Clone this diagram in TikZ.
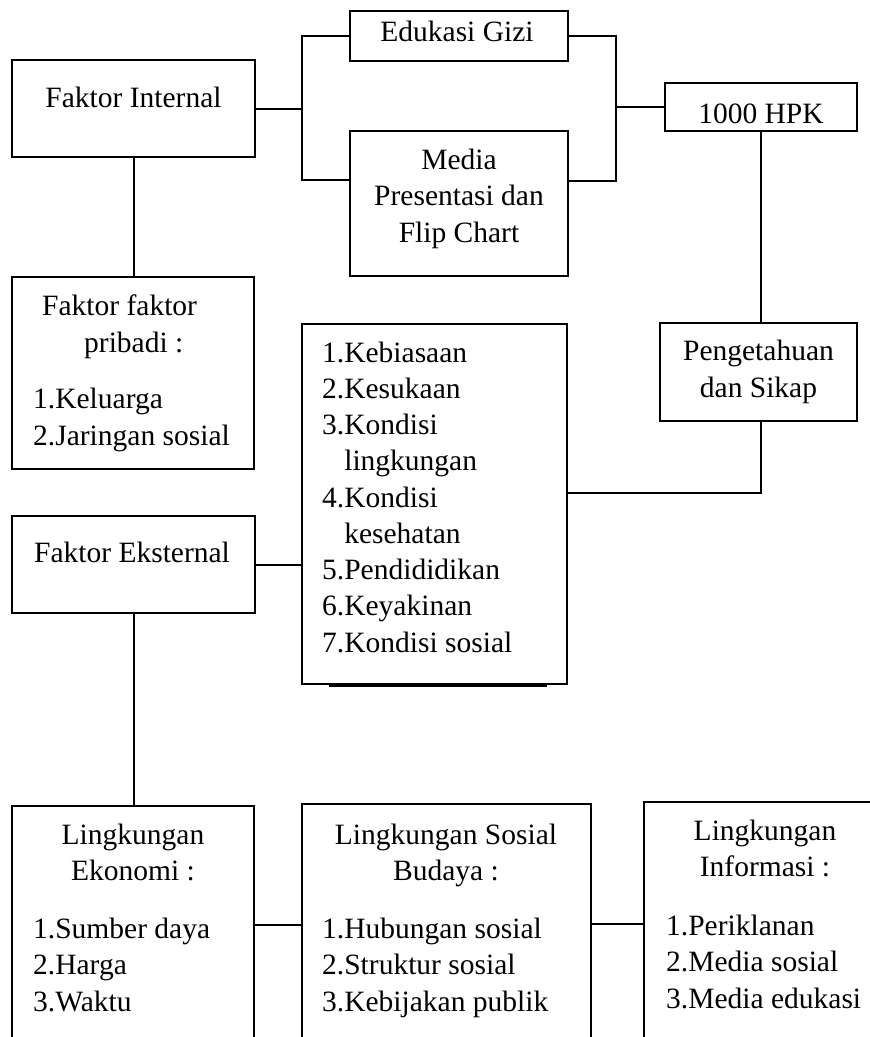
\documentclass[tikz,border=0pt]{standalone}
\usepackage{fontspec}
\setmainfont{Liberation Serif}
\usetikzlibrary{positioning}

\begin{document}
\begin{tikzpicture}[
    x=1pt, y=-1pt,
    box/.style={draw, line width=2pt, inner sep=0pt, outer sep=0pt},
    thinbox/.style={draw, line width=1.2pt, inner sep=0pt, outer sep=0pt},
    teks/.style={inner sep=0pt, font=\fontsize{29.5}{36.5}\selectfont},
    line/.style={line width=2pt},
]
    \useasboundingbox (0,0) rectangle (870,1037);
    \clip (0,0) rectangle (870,1037);

    % Boxes
    \node[box, minimum width=243, minimum height=97] (intern) at (133.5, 108.5) {};
    \node[box, minimum width=218, minimum height=50] (edukasi) at (459, 36) {};
    \node[box, minimum width=218, minimum height=145] (media) at (459, 203.5) {};
    \node[box, minimum width=192, minimum height=48] (hpk) at (761, 107) {};
    \node[box, minimum width=242, minimum height=192] (pribadi) at (133, 373) {};
    \node[thinbox, minimum width=265, minimum height=360] (daftar) at (434.5, 504) {};
    \node[box, minimum width=197, minimum height=98] (sikap) at (758.5, 372) {};
    \node[box, minimum width=243, minimum height=97] (ekstern) at (133.5, 564.5) {};
    \node[box, minimum width=242, minimum height=254] (ekonomi) at (133, 933) {};
    \node[box, minimum width=289, minimum height=256] (sosbud) at (446.5, 932) {};
    \node[box, minimum width=246, minimum height=258] (informasi) at (767, 931) {};

    % Texts (base = last line)
    \node[teks, anchor=base] (tIntern) at (133.5, 107) {Faktor Internal};
    \node[teks, anchor=base] (tEdukasi) at (457, 41) {Edukasi Gizi};
    \node[teks, anchor=base, align=center] (tMedia) at (459, 242) {Media\\Presentasi dan\\Flip Chart};
    \begin{scope}
        \clip (hpk.south west) rectangle ([yshift=-19pt]hpk.north east);
        \node[teks, anchor=base] (tHpk) at (761, 123) {1000 HPK};
    \end{scope}
    \node[teks, anchor=base west, align=left] (tPribadi) at (42, 352) {Faktor faktor\\\hspace*{42pt}pribadi :};
    \node[teks, anchor=base west, align=left] (lPribadi) at (33, 445) {1.Keluarga\\2.Jaringan sosial};
    \node[teks, anchor=base west, align=left, font=\fontsize{29.5}{36.25}\selectfont] (lDaftar) at (322, 652) {%
        1.Kebiasaan\\2.Kesukaan\\3.Kondisi\\\phantom{3.}lingkungan\\4.Kondisi\\\phantom{4.}kesehatan\\%
        5.Pendididikan\\6.Keyakinan\\7.Kondisi sosial};
    \node[teks, anchor=base, align=center, font=\fontsize{29.5}{37.5}\selectfont] (tSikap) at (758.5, 397.5) {Pengetahuan\\dan Sikap};
    \node[teks, anchor=base] (tEkstern) at (132, 562) {Faktor Eksternal};
    \node[teks, anchor=base, align=center] (tEkonomi) at (133, 880.5) {Lingkungan\\Ekonomi :};
    \node[teks, anchor=base west, align=left] (lEkonomi) at (33, 1011) {1.Sumber daya\\2.Harga\\3.Waktu};
    \node[teks, anchor=base, align=center] (tSosbud) at (446, 880.5) {Lingkungan Sosial\\Budaya :};
    \node[teks, anchor=base west, align=left] (lSosbud) at (322, 1011) {1.Hubungan sosial\\2.Struktur sosial\\3.Kebijakan publik};
    \node[teks, anchor=base, align=center] (tInformasi) at (765, 876.5) {Lingkungan\\Informasi :};
    \node[teks, anchor=base west, align=left] (lInformasi) at (666, 1008) {1.Periklanan\\2.Media sosial\\3.Media edukasi};

    % Connectors
    \coordinate (jk) at (302, 108.5);
    \coordinate (jn) at (616, 107);
    \draw[line] (intern.east) -- (jk);
    \draw[line] (edukasi.west) -| (jk) |- (media.west |- 0,180);
    \draw[line] (edukasi.east) -| (jn) |- (media.east |- 0,181);
    \draw[line] (jn) -- (hpk.west);
    \draw[line] (hpk.south) -- (hpk.south |- sikap.north);
    \draw[line] (hpk.south |- sikap.south) |- (daftar.east |- 0,493);
    \draw[line] (intern.south) -- (intern.south |- pribadi.north);
    \draw[line] (ekstern.east) -- (ekstern.east -| daftar.west);
    \draw[line] (ekstern.south) -- (ekstern.south |- ekonomi.north);
    \draw[line] (ekonomi.east |- 0,925) -- (sosbud.west |- 0,925);
    \draw[line] (sosbud.east |- 0,924) -- (informasi.west |- 0,924);
    \draw[line] ([xshift=27pt, yshift=-1.5pt]daftar.south west) -- ([xshift=-20pt, yshift=-1.5pt]daftar.south east);
\end{tikzpicture}
\end{document}
